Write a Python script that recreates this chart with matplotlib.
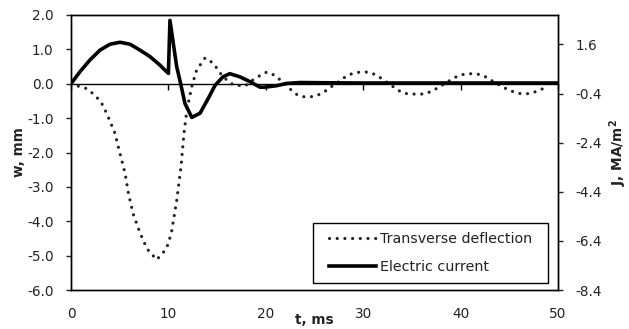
import matplotlib
matplotlib.use("Agg")
import matplotlib.pyplot as plt
from matplotlib.path import Path

# Transverse deflection w (mm), left axis
t_w = [0, 0.75, 1.5, 2.46, 3.15, 3.66, 4.5, 5.0, 5.55, 5.9, 6.4, 7.1, 7.8, 8.8,
       9.8, 10.3, 10.85, 11.3, 11.6, 11.9, 12.4, 12.9, 13.76, 14.6, 15.6, 16.7,
       17.9, 18.9, 20.1, 20.8, 21.5, 22.6, 23.3, 24.1, 24.9, 25.6, 26.3, 26.9,
       27.6, 28.3, 29.0, 29.7, 30.5, 31.3, 32.0, 33.3, 34.0, 34.7, 35.5, 36.3,
       37.0, 37.8, 38.4, 39.1, 39.8, 40.6, 41.4, 42.2, 42.8, 43.5, 44.2, 44.9,
       45.7, 46.4, 47.2, 48.0, 48.8]
w = [0, -0.07, -0.13, -0.33, -0.57, -0.86, -1.43, -2.0, -2.6, -3.2, -3.8, -4.35,
     -4.8, -5.12, -4.8, -4.35, -3.4, -2.4, -1.44, -0.76, -0.08, 0.4, 0.75, 0.6,
     0.2, -0.04, -0.06, 0.16, 0.34, 0.26, 0.11, -0.18, -0.34, -0.39, -0.37,
     -0.3, -0.18, -0.05, 0.08, 0.23, 0.31, 0.34, 0.34, 0.26, 0.13, -0.13, -0.26,
     -0.3, -0.3, -0.3, -0.22, -0.1, 0.01, 0.13, 0.24, 0.29, 0.29, 0.26, 0.16,
     0.04, -0.07, -0.18, -0.26, -0.3, -0.28, -0.2, -0.1]

# Electric current J (MA/m^2), right axis
t_j = [0, 0.92, 1.95, 2.98, 4.0, 5.03, 6.06, 7.08, 8.1, 9.1, 10.0, 10.16, 10.5,
       10.85, 11.26, 11.7, 12.4, 13.25, 14.1, 14.8, 15.6, 16.3, 17.35, 18.4,
       19.4, 19.9, 21.1, 22.1, 23.5, 26, 30, 35, 40, 45, 50]
j = [0, 0.49, 0.97, 1.37, 1.61, 1.69, 1.61, 1.37, 1.11, 0.77, 0.42, 2.58, 1.65,
     0.7, 0.0, -0.8, -1.37, -1.2, -0.59, -0.06, 0.28, 0.41, 0.28, 0.08, -0.14,
     -0.14, -0.08, 0.01, 0.05, 0.04, 0.03, 0.03, 0.03, 0.03, 0.03]

x_ticks = [0, 10, 20, 30, 40, 50]
w_ticks = [2.0, 1.0, 0.0, -1.0, -2.0, -3.0, -4.0, -5.0, -6.0]
j_ticks = [1.6, -0.4, -2.4, -4.4, -6.4, -8.4]

plt.rcParams['font.family'] = ['DejaVu Sans']
fig = plt.figure(figsize=(6.29, 3.29), dpi=100)
ax = fig.add_axes([71/629, 1-290/329, (558-71)/629, (290-15)/329])
ax2 = ax.twinx()

ax.set_xlim(0, 50)
ax.set_ylim(-6, 2)
ax2.set_ylim(-8.4, 2.8)

line_w, = ax.plot(t_w, w, color='#222222', lw=2.3, linestyle=(0, (0.01, 2.4)),
                  dash_capstyle='round', label='Transverse deflection')
line_j, = ax2.plot(t_j, j, color='black', lw=2.6, solid_joinstyle='round',
                   label='Electric current')

for a in (ax, ax2):
    for s in a.spines.values():
        s.set_linewidth(1.0)
        s.set_color('black')

TS = 9.8
ax.set_xticks(x_ticks)
ax.set_xticklabels([str(v) for v in x_ticks])
ax.tick_params(axis='x', length=0, pad=12.5, labelsize=TS, colors='#222222')
ax.set_yticks(w_ticks)
ax.set_yticklabels([f"{v:.1f}" for v in w_ticks])
ax.tick_params(axis='y', direction='out', length=3.5, width=1, pad=9,
               labelsize=TS, colors='#222222')
ax2.set_yticks(j_ticks)
ax2.set_yticklabels([f"{v:.1f}" for v in j_ticks])
ax2.tick_params(axis='y', direction='out', length=3.5, width=1, pad=9,
                labelsize=TS, colors='#222222')

# zero line axis with ticks
sec = ax.secondary_xaxis(0, transform=ax.transData)
sec.set_xticks(x_ticks)
sec.set_xticklabels([])
sec.tick_params(axis='x', direction='out', length=4, width=1, color='black')
sec.spines['bottom'].set_linewidth(1.0)
sec.spines['top'].set_linewidth(1.0)

ax.set_xlabel('t, ms', fontsize=TS, fontweight='bold', color='#222222')
ax.xaxis.set_label_coords(0.5, -0.082)
ax.set_ylabel('w, mm', fontsize=TS, fontweight='bold', color='#222222')
ax.yaxis.set_label_coords(-45/487, 0.5)
ax2.set_ylabel('J, MA/m$^\\mathbf{2}$', fontsize=TS, fontweight='bold', color='#222222')
ax2.yaxis.set_label_coords(1 + 49/487, 0.5)

LF = 10.3
leg = ax2.legend(handles=[line_w, line_j], loc='lower right',
                 bbox_to_anchor=(541/629, 1-283/329), bbox_transform=fig.transFigure,
                 borderaxespad=0, fancybox=False, framealpha=1, edgecolor='black',
                 fontsize=LF, handlelength=3.3, handletextpad=0.25, labelspacing=1.0,
                 borderpad=0.63)


def hpad_box(x0, y0, width, height, mutation_size):
    px = 0.49 * mutation_size
    x1 = x0 + width + px
    x0 = x0 - px
    y1 = y0 + height
    return Path([(x0, y0), (x1, y0), (x1, y1), (x0, y1), (x0, y0)], closed=True)


leg.get_frame().set_boxstyle(hpad_box)
leg.get_frame().set_linewidth(1.0)
for txt in leg.get_texts():
    txt.set_color('#222222')

fig.savefig('out.png', dpi=100)
